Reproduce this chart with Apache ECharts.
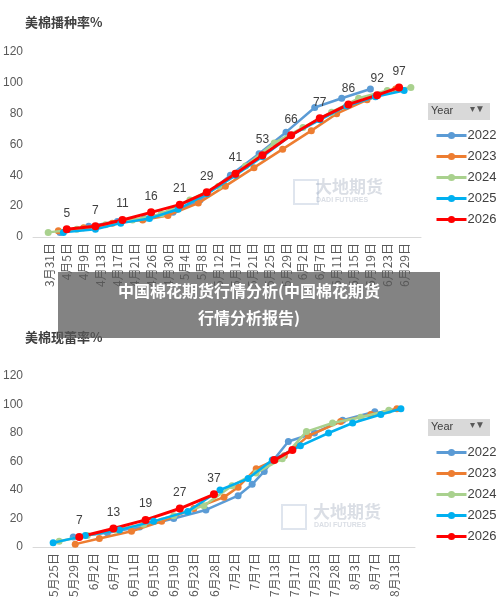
<!DOCTYPE html>
<html><head><meta charset="utf-8">
<script src="https://cdn.jsdelivr.net/npm/echarts@6/dist/echarts.min.js"></script>
<style>html,body{margin:0;padding:0;background:#fff}#c{width:500px;height:611px}</style>
</head><body><div id="c"></div>
<script>
const years = ['2022','2023','2024','2025','2026'];
const colors = ['#5B9BD5','#ED7D31','#A9D18E','#00B0F0','#FF0000'];
const plantLabels = ['3月31日','4月5日','4月9日','4月13日','4月17日','4月21日','4月26日','4月30日','5月4日','5月8日','5月12日','5月17日','5月21日','5月25日','5月29日','6月2日','6月7日','6月11日','6月15日','6月19日','6月23日','6月29日'];
const squareLabels = ['5月25日','5月29日','6月2日','6月7日','6月11日','6月15日','6月19日','6月23日','6月28日','7月2日','7月7日','7月13日','7月17日','7月23日','7月28日','8月3日','8月7日','8月13日'];
// [position along date axis, percent]
const plant2022 = [[0.6,3],[2.3,7],[4.0,10],[5.6,12],[7.3,16],[8.9,24],[10.7,40],[12.4,54],[14.0,68],[15.7,84],[17.3,90],[19.0,96]];
const plant2023 = [[0.5,4],[2.0,6],[3.7,9],[5.5,11],[7.0,14],[8.8,22],[10.4,33],[12.1,45],[13.8,57],[15.5,69],[17.0,80],[18.8,89],[20.5,96]];
const plant2024 = [[-0.1,3],[1.6,5],[3.3,8],[4.9,11],[6.6,15],[8.3,24],[10.0,33],[11.6,46],[13.3,61],[15.0,71],[16.7,81],[18.3,90],[20.0,95],[21.4,97]];
const plant2025 = [[0.8,3],[2.7,5],[4.2,9],[5.9,12],[7.6,18],[9.3,28],[11.0,40],[12.6,52],[14.3,66],[16.0,76],[17.6,85],[19.3,91],[21.0,95]];
const plant2026 = [[1.0,5],[2.7,7],[4.3,11],[6.0,16],[7.7,21],[9.3,29],[11.0,41],[12.6,53],[14.3,66],[16.0,77],[17.7,86],[19.4,92],[20.7,97]];
const sq2022 = [[1.0,7],[2.7,10],[4.3,14],[6.0,20],[7.6,26],[9.2,36],[9.9,44],[10.5,53],[11.7,74],[13.0,80],[14.4,89],[16.0,95]];
const sq2023 = [[1.1,2],[2.3,6],[3.9,11],[5.4,18],[7.0,27],[8.5,35],[9.2,42],[10.1,55],[11.5,64],[12.7,78],[14.3,88],[15.8,93],[17.1,97]];
const sq2024 = [[0.3,4],[1.7,8],[3.1,12],[4.5,16],[6.0,22],[7.5,29],[8.9,43],[10.1,52],[11.4,62],[12.6,81],[13.9,87],[15.3,91],[16.7,96]];
const sq2025 = [[0,3],[1.6,8],[3.3,12],[5.0,18],[6.7,25],[8.3,40],[9.7,48],[10.9,61],[12.3,71],[13.7,80],[14.9,87],[16.3,93],[17.3,97]];
const sq2026 = [[1.3,7],[3.0,13],[4.6,19],[6.3,27],[8.0,37],null,[11.0,61],[11.9,68]];

const plantData = [plant2022,plant2023,plant2024,plant2025,plant2026];
const sqData = [sq2022,sq2023,sq2024,sq2025,sq2026];
const chart = echarts.init(document.getElementById('c'));
const series = [];
function mk(idx, data, i, showLab){
  const is26 = i===4;
  return {type:'line', name:years[i], xAxisIndex:idx, yAxisIndex:idx, data:data.map(d=>d===null?[null,null]:d),
    color:colors[i], symbol:'circle', symbolSize:is26?8:7, lineStyle:{width:is26?3:2.5}, z:is26?5:2+i,
    connectNulls:false, animation:false,
    label:{show:showLab&&is26, position:'top', color:'#404040', fontSize:12, distance:6,
      formatter:p=>p.value[1]}};
}
for(let i=0;i<5;i++) series.push(mk(0, plantData[i], i, true));
for(let i=0;i<5;i++){ const s=mk(1, sqData[i], i, true);
  if(i===4){ s.label.formatter = p=> p.dataIndex<5 ? p.value[1] : ''; }
  series.push(s);}

function xa(idx, labels){
  return {type:'value', gridIndex:idx, min:-1, max:labels.length, interval:1,
    axisLine:{show:true,lineStyle:{color:'#D9D9D9'}}, axisTick:{show:false}, splitLine:{show:false},
    axisLabel:{rotate:90, color:'#595959', fontSize:12, fontFamily:'Noto Sans CJK SC', margin:6,
      formatter:v=> (v>=0 && v<labels.length && Number.isInteger(v)) ? labels[v] : ''}};
}
function ya(idx){
  return {type:'value', gridIndex:idx, min:0, max:120, interval:20,
    axisLine:{show:false}, axisTick:{show:false}, splitLine:{show:false},
    axisLabel:{color:'#595959', fontSize:12, margin:10}};
}
function legend(top){
  return {orient:'vertical', left:430, top:top, itemGap:8, itemWidth:30, itemHeight:9,
    data:years.map(y=>({name:y, itemStyle:{}})), lineStyle:{width:3},
    textStyle:{color:'#404040', fontSize:13, padding:[0,0,0,-4]}, selectedMode:false};
}
chart.setOption({
  backgroundColor:'#fff',
  grid:[{left:23, width:398, top:52, height:185},{left:25, width:390, top:376, height:171}],
  xAxis:[xa(0,plantLabels), xa(1,squareLabels)],
  yAxis:[ya(0), ya(1)],
  legend:[legend(124), legend(441)],
  series:series,
  graphic:[
    {type:'text', left:25, top:16, style:{text:'美棉播种率%', fontSize:13, fontWeight:'bold', fill:'#404040', fontFamily:'Noto Sans CJK SC'}},
    {type:'text', left:25, top:331, style:{text:'美棉现蕾率%', fontSize:13, fontWeight:'bold', fill:'#404040', fontFamily:'Noto Sans CJK SC'}},
    {type:'rect', shape:{x:428,y:103,width:62,height:17}, style:{fill:'#D9D9D9'}},
    {type:'text', left:431, top:105, style:{text:'Year', fontSize:11, fill:'#404040'}},
    {type:'text', left:470, top:104, style:{text:'▾▼', fontSize:10, fill:'#595959'}},
    {type:'rect', shape:{x:428,y:419,width:62,height:17}, style:{fill:'#D9D9D9'}},
    {type:'text', left:431, top:421, style:{text:'Year', fontSize:11, fill:'#404040'}},
    {type:'text', left:470, top:420, style:{text:'▾▼', fontSize:10, fill:'#595959'}},
    {type:'text', left:315, top:178, style:{text:'大地期货', fontSize:17, fontWeight:'bold', fill:'rgba(150,160,180,0.35)', fontFamily:'Noto Sans CJK SC'}},
    {type:'text', left:316, top:197, style:{text:'DADI FUTURES', fontSize:7, fontWeight:'bold', fill:'rgba(150,160,180,0.35)'}},
    {type:'rect', shape:{x:294,y:180,width:24,height:24}, style:{fill:'none', stroke:'rgba(150,170,200,0.3)', lineWidth:2}},
    {type:'text', left:313, top:503, style:{text:'大地期货', fontSize:17, fontWeight:'bold', fill:'rgba(150,160,180,0.35)', fontFamily:'Noto Sans CJK SC'}},
    {type:'text', left:314, top:522, style:{text:'DADI FUTURES', fontSize:7, fontWeight:'bold', fill:'rgba(150,160,180,0.35)'}},
    {type:'rect', shape:{x:282,y:505,width:24,height:24}, style:{fill:'none', stroke:'rgba(150,170,200,0.3)', lineWidth:2}},
    {type:'rect', z:100, shape:{x:58,y:272,width:382,height:66}, style:{fill:'rgba(90,90,90,0.75)'}},
    {type:'text', z:101, x:249, y:291, style:{text:'中国棉花期货行情分析(中国棉花期货', align:'center', verticalAlign:'middle', fontSize:16, fontWeight:'bold', fill:'#fff', fontFamily:'Noto Sans CJK SC'}},
    {type:'text', z:101, x:249, y:318, style:{text:'行情分析报告)', align:'center', verticalAlign:'middle', fontSize:16, fontWeight:'bold', fill:'#fff', fontFamily:'Noto Sans CJK SC'}}
  ]
});
</script></body></html>
